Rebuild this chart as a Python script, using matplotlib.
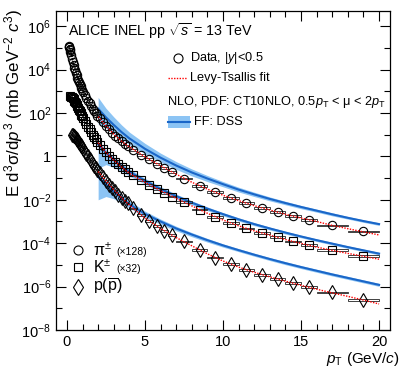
import numpy as np
import matplotlib
matplotlib.use("Agg")
import matplotlib.pyplot as plt
from matplotlib.patches import Rectangle
from matplotlib.ticker import MultipleLocator, NullFormatter

plt.rcParams['font.family'] = ['Liberation Sans', 'DejaVu Sans']
plt.rcParams['mathtext.fontset'] = 'custom'
plt.rcParams['mathtext.rm'] = 'Liberation Sans'
plt.rcParams['mathtext.it'] = 'Liberation Sans:italic'
plt.rcParams['mathtext.bf'] = 'Liberation Sans:bold'

# pT bin edges (GeV/c)
edges = [0.10, 0.12, 0.14, 0.16, 0.18, 0.20, 0.25, 0.30, 0.35, 0.40, 0.45, 0.50,
         0.55, 0.60, 0.65, 0.70, 0.75, 0.80, 0.85, 0.90, 0.95, 1.0, 1.1, 1.2,
         1.3, 1.4, 1.5, 1.6, 1.7, 1.8, 1.9, 2.0, 2.2, 2.4, 2.6, 2.8, 3.0, 3.2,
         3.4, 3.6, 3.8, 4.0, 4.5, 5.0, 5.5, 6.0, 6.5, 7.0, 8.0, 9.0, 10, 11,
         12, 13, 14, 15, 16, 18, 20]

# log10 of E d3sigma/dp3 (already scaled)
pion_log = [5.08, 5.06, 5.02, 4.97, 4.92,
            4.82, 4.66, 4.50, 4.35, 4.21, 4.08, 3.96, 3.84, 3.73, 3.62, 3.52, 3.42, 3.33, 3.24, 3.15, 3.07,
            2.96, 2.82, 2.69, 2.56, 2.44, 2.32, 2.20, 2.09, 1.98, 1.88,
            1.76, 1.58, 1.41, 1.25, 1.10, 0.96, 0.83, 0.70, 0.58, 0.47,
            0.31, 0.08, -0.13, -0.34, -0.53, -0.72,
            -1.02, -1.36, -1.65,
            -1.92, -2.16, -2.38, -2.57, -2.76, -2.92,
            -3.18, -3.46]
kaon_log = [2.76, 2.75, 2.72, 2.68, 2.63, 2.57, 2.51, 2.44, 2.37, 2.30, 2.23, 2.16, 2.09, 2.01, 1.93, 1.86,
            1.76, 1.62, 1.49, 1.36, 1.24, 1.12, 1.00, 0.89, 0.78, 0.68,
            0.53, 0.35, 0.18, 0.03, -0.11, -0.24, -0.37, -0.49, -0.60, -0.71,
            -0.88, -1.10, -1.30, -1.49, -1.67, -1.85,
            -2.10, -2.45, -2.78,
            -3.07, -3.32, -3.53, -3.73, -3.92, -4.10,
            -4.33, -4.58]
proton_log = [1.00, 0.98, 0.95, 0.92, 0.88, 0.84, 0.79, 0.74, 0.69, 0.64, 0.58, 0.53, 0.47, 0.42,
              0.33, 0.22, 0.11, 0.00, -0.11, -0.22, -0.33, -0.43, -0.53, -0.63,
              -0.78, -0.96, -1.13, -1.30, -1.46, -1.61, -1.76, -1.90, -2.04, -2.17,
              -2.40, -2.70, -2.97, -3.21, -3.43, -3.63,
              -3.92, -4.30, -4.66,
              -4.97, -5.22, -5.45, -5.65, -5.85, -6.02,
              -6.27, -6.60]
first_bin = {"pion": 0, "kaon": 5, "proton": 7}
sys_rel = 0.10

# Levy-Tsallis fit curves (log10)
fit_pt = [2, 2.5, 3, 3.5, 4, 5, 6, 7, 8, 9, 10, 11, 12, 13, 14, 15, 16, 17, 18, 19, 20]
pion_fit = [1.83, 1.41, 1.03, 0.70, 0.43, -0.02, -0.43, -0.82, -1.19, -1.51, -1.79, -2.04,
            -2.27, -2.47, -2.67, -2.84, -3.00, -3.18, -3.33, -3.48, -3.62]
kaon_fit = [0.63, 0.18, -0.17, -0.49, -0.78, -1.20, -1.58, -1.93, -2.28, -2.62, -2.93, -3.20,
            -3.43, -3.63, -3.83, -4.01, -4.18, -4.33, -4.47, -4.60, -4.74]
proton_fit = [-0.70, -1.13, -1.53, -1.90, -2.24, -2.84, -3.32, -3.74, -4.12, -4.49, -4.82, -5.10,
              -5.34, -5.55, -5.75, -5.94, -6.12, -6.29, -6.45, -6.62, -6.80]

# NLO pQCD (CT10NLO + DSS), central value and scale band (log10)
nlo_pt = [2, 2.5, 3, 3.5, 4, 5, 6, 7, 8, 9, 10, 11, 12, 13, 14, 15, 16, 17, 18, 19, 20]
pion_nlo = [2.20, 1.80, 1.45, 1.12, 0.83, 0.35, -0.06, -0.42, -0.74, -1.02, -1.28, -1.53,
            -1.75, -1.96, -2.15, -2.33, -2.50, -2.67, -2.83, -2.98, -3.12]
pion_nlo_hi = [2.72, 2.22, 1.82, 1.45, 1.12, 0.60, 0.15, -0.24, -0.58, -0.88, -1.16, -1.42,
               -1.65, -1.87, -2.07, -2.26, -2.43, -2.60, -2.77, -2.92, -3.06]
pion_nlo_lo = [1.50, 1.30, 1.05, 0.80, 0.55, 0.12, -0.26, -0.60, -0.90, -1.16, -1.40, -1.64,
               -1.85, -2.05, -2.23, -2.41, -2.57, -2.74, -2.89, -3.04, -3.18]
kaon_nlo = [0.55, 0.17, -0.15, -0.45, -0.70, -1.12, -1.50, -1.83, -2.13, -2.41, -2.66, -2.90,
            -3.12, -3.32, -3.51, -3.69, -3.86, -4.02, -4.18, -4.33, -4.48]
kaon_nlo_hi = [0.70, 0.32, -0.01, -0.32, -0.58, -1.01, -1.40, -1.74, -2.05, -2.33, -2.59, -2.83,
               -3.05, -3.26, -3.45, -3.63, -3.80, -3.96, -4.12, -4.27, -4.42]
kaon_nlo_lo = [-0.55, -0.38, -0.50, -0.70, -0.90, -1.28, -1.64, -1.95, -2.23, -2.50, -2.74, -2.98,
               -3.19, -3.39, -3.58, -3.75, -3.92, -4.08, -4.24, -4.39, -4.54]
proton_nlo = [-0.95, -1.30, -1.62, -1.92, -2.20, -2.65, -3.00, -3.32, -3.60, -3.86, -4.10, -4.32,
              -4.53, -4.73, -4.92, -5.10, -5.27, -5.44, -5.60, -5.76, -5.92]
proton_nlo_hi = [-0.75, -1.10, -1.42, -1.74, -2.04, -2.52, -2.89, -3.22, -3.51, -3.78, -4.03, -4.25,
                 -4.46, -4.66, -4.85, -5.03, -5.20, -5.37, -5.53, -5.69, -5.85]
proton_nlo_lo = [-2.00, -1.85, -1.95, -2.15, -2.38, -2.80, -3.13, -3.43, -3.70, -3.95, -4.18, -4.39,
                 -4.60, -4.80, -4.99, -5.17, -5.34, -5.51, -5.67, -5.83, -5.99]

species = [
    ("pion", pion_log, "o", 6.0, pion_fit, pion_nlo, pion_nlo_lo, pion_nlo_hi),
    ("kaon", kaon_log, "s", 5.2, kaon_fit, kaon_nlo, kaon_nlo_lo, kaon_nlo_hi),
    ("proton", proton_log, "d", 7.5, proton_fit, proton_nlo, proton_nlo_lo, proton_nlo_hi),
]

band_col = "#8cc4f4"
line_col = "#1a66c8"

fig = plt.figure(figsize=(4.07, 3.71), dpi=100)
ax = fig.add_axes([0.1376, 0.1105, 0.8206, 0.8598])
ax.set_yscale("log")

edges = np.array(edges)
for name, vals, mk, ms, fit, nlo, nlo_lo, nlo_hi in species:
    i0 = first_bin[name]
    lo = edges[i0:-1]
    hi = edges[i0 + 1:]
    pt = 0.5 * (lo + hi)
    y = np.power(10.0, vals)

    ax.fill_between(nlo_pt, np.power(10.0, nlo_lo), np.power(10.0, nlo_hi),
                    color=band_col, lw=0, zorder=1)
    ax.plot(nlo_pt, np.power(10.0, nlo), color=line_col, lw=1.5, zorder=2)

    for a, b, v in zip(lo, hi, y):
        ax.add_patch(Rectangle((a, v / (1 + sys_rel)), b - a, v * (1 + sys_rel) - v / (1 + sys_rel),
                               fill=False, ec="#222222", lw=0.6, zorder=3))
    ax.plot(pt, y, ls="none", marker=mk, ms=ms, mfc="none", mec="black", mew=0.8, zorder=4)
    ax.plot(fit_pt, np.power(10.0, fit), color="red", ls=(0, (1, 1)), lw=1.0, zorder=5)

ax.set_xlim(-0.7, 20.7)
ax.set_ylim(1e-8, 5e6)

ax.set_xticks([0, 5, 10, 15, 20])
ax.xaxis.set_minor_locator(MultipleLocator(1))
major_y = [1e-8, 1e-6, 1e-4, 1e-2, 1, 1e2, 1e4, 1e6]
ax.set_yticks(major_y)
ax.set_yticklabels([r"$10^{-8}$", r"$10^{-6}$", r"$10^{-4}$", r"$10^{-2}$", "1",
                    r"$10^{2}$", r"$10^{4}$", r"$10^{6}$"])
ax.set_yticks([1e-7, 1e-5, 1e-3, 1e-1, 1e1, 1e3, 1e5], minor=True)
ax.yaxis.set_minor_formatter(NullFormatter())
ax.tick_params(which="both", direction="in", top=True, right=True, labelsize=10.5)
ax.tick_params(which="major", length=7, width=0.8)
ax.tick_params(which="minor", length=4, width=0.8)
for s in ax.spines.values():
    s.set_linewidth(0.9)

ax.set_ylabel(r"E d$^{3}$σ/d$p^{3}$ (mb GeV$^{-2}$ $c^{3}$)", fontsize=12.2, loc="top")
ax.yaxis.set_label_coords(-0.093, 1.005)
ax.set_xlabel(r"$p_{\rm T}$ (GeV/$c$)", fontsize=11, loc="right")
ax.xaxis.set_label_coords(1.03, -0.062)

# header and legends
ax.text(0.036, 0.937, r"ALICE INEL pp $\sqrt{s}$ = 13 TeV", transform=ax.transAxes,
        fontsize=10.3, va="center")
ax.plot([0.365], [0.853], transform=ax.transAxes, marker="o", ms=6.5, mfc="none",
        mec="black", mew=0.8, clip_on=False)
ax.text(0.401, 0.853, r"Data, |$y$|<0.5", transform=ax.transAxes, fontsize=9.2, va="center")
ax.plot([0.335, 0.392], [0.79, 0.79], transform=ax.transAxes, color="red",
        ls=(0, (1, 1)), lw=1.0)
ax.text(0.401, 0.79, "Levy-Tsallis fit", transform=ax.transAxes, fontsize=9.2, va="center")
ax.text(0.332, 0.715, r"NLO, PDF: CT10NLO, 0.5$p_{\rm T}$ < μ < 2$p_{\rm T}$",
        transform=ax.transAxes, fontsize=9.2, va="center")
ax.add_patch(Rectangle((0.335, 0.633), 0.066, 0.038, transform=ax.transAxes,
                       color=band_col, lw=0))
ax.plot([0.335, 0.401], [0.652, 0.652], transform=ax.transAxes, color=line_col, lw=1.5)
ax.text(0.413, 0.652, "FF: DSS", transform=ax.transAxes, fontsize=9.2, va="center")

leg_y = [0.251, 0.197, 0.136]
leg_mk = [("o", 6.5), ("s", 5.5), ("d", 8)]
leg_txt = [r"π$^{\pm}$", r"K$^{\pm}$", r"p($\overline{\rm p}$)"]
leg_scale = ["(×128)", "(×32)", ""]
for yy, (mk, ms), t, sc in zip(leg_y, leg_mk, leg_txt, leg_scale):
    ax.plot([0.066], [yy], transform=ax.transAxes, marker=mk, ms=ms, mfc="none",
            mec="black", mew=0.8)
    ax.text(0.111, yy, t, transform=ax.transAxes, fontsize=11.5, va="center")
    if sc:
        ax.text(0.18, yy - 0.006, sc, transform=ax.transAxes, fontsize=7.5, va="center")

fig.savefig("out.png", dpi=100)
